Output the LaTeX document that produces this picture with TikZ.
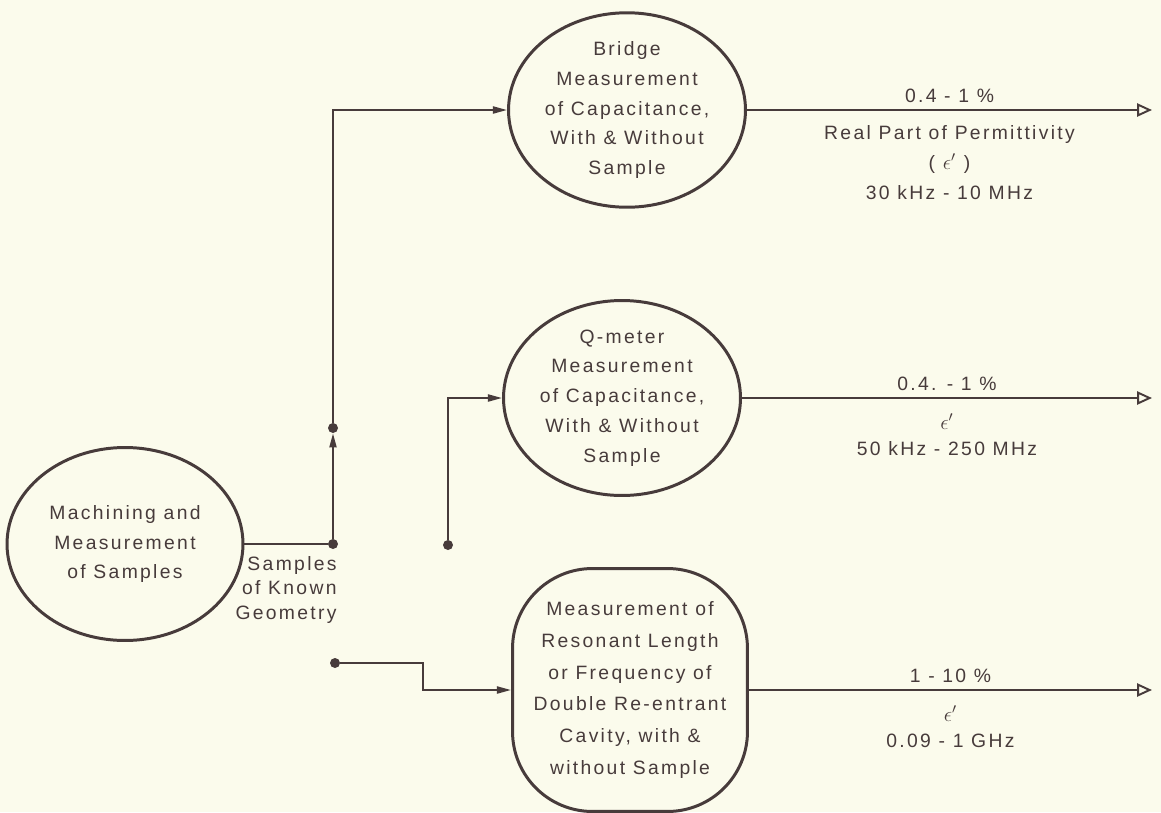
\documentclass[tikz,border=0pt]{standalone}
\usepackage{fontspec}
\setmainfont{Liberation Sans}[LetterSpace=12]
\usepackage{tikz}
\usetikzlibrary{positioning,arrows.meta,shapes.geometric}
\definecolor{ink}{HTML}{473B3B}
\definecolor{paper}{HTML}{FBFBEC}
\newcommand{\eps}{{\large$\epsilon'$}}

\begin{document}
\begin{tikzpicture}[
    x=0.02cm, y=-0.02cm,
    color=ink,
    font=\fontsize{11}{17}\selectfont,
    proc/.style={draw, ellipse, line width=1.7pt, align=center, inner sep=0pt, minimum width=4.74cm, minimum height=3.9cm},
    flow/.style={-{Triangle[length=8pt, width=4pt]}, line width=1.1pt},
    result/.style={-{Triangle[open, length=8.5pt, width=7.5pt]}, line width=1.1pt},
    dot/.style={circle, fill, inner sep=0pt, minimum size=0.2cm},
    note/.style={align=center, font=\fontsize{11}{15}\selectfont}
]
\fill[paper] (0,0) rectangle (1161,812);

\node[proc, minimum width=4.72cm, minimum height=3.86cm] (machining) at (125,544) {Machining and\\Measurement\\of Samples};
\node[proc, minimum height=3.88cm] (bridge) at (627,110) {Bridge\\Measurement\\of Capacitance,\\With \& Without\\Sample};
\node[proc] (qmeter) at (622,398) {Q-meter\\Measurement\\of Capacitance,\\With \& Without\\Sample};
\node[proc, rectangle, rounded corners=1.6cm, minimum width=4.7cm, minimum height=4.86cm,
      font=\fontsize{11}{18}\selectfont] (cavity) at (630,690) {Measurement of\\Resonant Length\\or Frequency of\\Double Re-entrant\\Cavity, with \&\\without Sample};

\node[dot] (split) at (333,544) {};
\node[dot] (tap) at (333,428) {};
\node[dot] (qin) at (448,545) {};
\node[dot] (cin) at (335,663) {};
\coordinate (jog) at (423,663);
\coordinate (endA) at (1152,110);
\coordinate (endB) at (1152,398);
\coordinate (endC) at (1152,690);

\draw[line width=1.1pt] (machining) -- node[below=3pt, align=right, font=\fontsize{11}{14}\selectfont] {Samples\\of Known\\Geometry} (split);
\draw[flow] (split) -- (tap);
\draw[flow] (tap) |- (bridge);
\draw[flow] (qin) |- (qmeter);
\draw[flow] (cin) -- (jog) |- (cavity);

\draw[result] (bridge) -- node[above] {0.4 - 1 \%} node[below=5pt, align=center] {Real Part of Permittivity\\( \eps\ )\\30 kHz - 10 MHz} (endA);
\draw[result] (qmeter) -- node[above] {0.4. - 1 \%} node[below=5pt, note] {\eps\\50 kHz - 250 MHz} (endB);
\draw[result] (cavity) -- node[above] {1 - 10 \%} node[below=5pt, note] {\eps\\0.09 - 1 GHz} (endC);
\end{tikzpicture}
\end{document}
